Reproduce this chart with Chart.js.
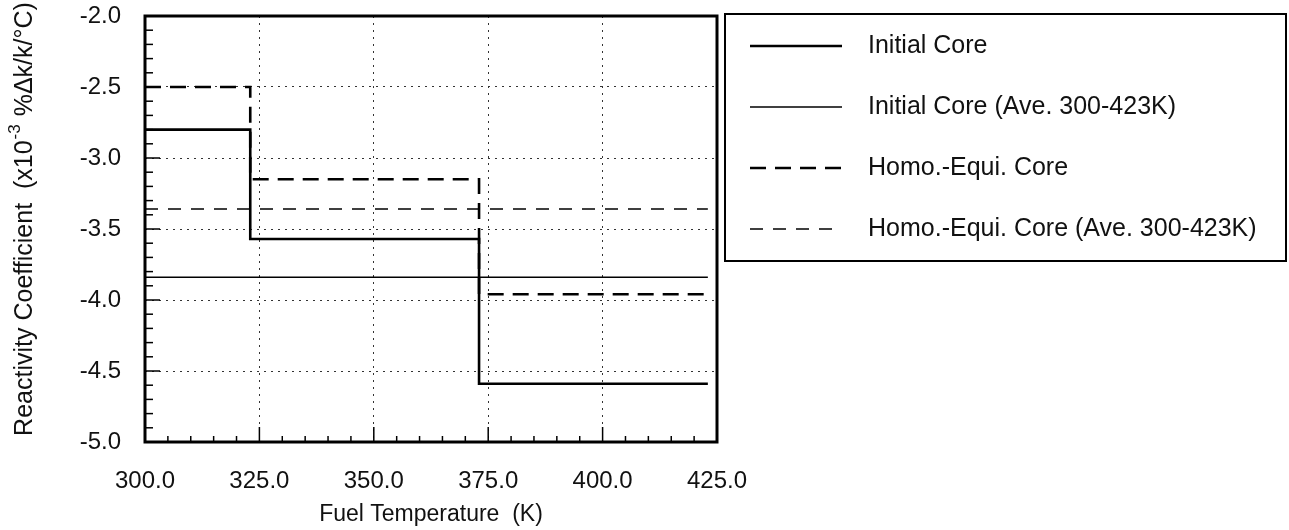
<!DOCTYPE html>
<html>
<head>
<meta charset="utf-8">
<script src="https://cdn.jsdelivr.net/npm/chart.js@4.4.1/dist/chart.umd.min.js"></script>
<style>
  html, body { margin: 0; padding: 0; background: #fff; }
  #wrap { width: 1289px; height: 530px; }
</style>
</head>
<body>
<div id="wrap"><canvas id="coefChart" width="1289" height="530"></canvas></div>
<script>
'use strict';

// fuel temperature break points (K) and coefficients (x10^-3 %dk/k/C)
var stepTemps = [300, 323, 373, 423];
var initialCore = [-2.80, -3.57, -4.59, -4.59];
var homoEquiCore = [-2.50, -3.15, -3.96, -3.96];

// averages over 300-423K
var aveTemps = [300, 423];
var initialAve = [-3.84, -3.84];
var homoEquiAve = [-3.36, -3.36];

var xTicks = [300, 325, 350, 375, 400, 425];
var yTicks = [-5.0, -4.5, -4.0, -3.5, -3.0, -2.5, -2.0];

var seriesNames = ['Initial Core', 'Initial Core (Ave. 300-423K)', 'Homo.-Equi. Core', 'Homo.-Equi. Core (Ave. 300-423K)'];

var FONT = "'Liberation Sans', Arial, Helvetica, sans-serif";
var INK = '#111';

function pts(xs, ys) {
  return xs.map(function (x, i) { return { x: x, y: ys[i] }; });
}

// frame round the plot plus the small inside ticks
var framePlugin = {
  id: 'frame',
  afterDatasetsDraw: function (chart) {
    var ctx = chart.ctx, a = chart.chartArea;
    var xs = chart.scales.x, ys = chart.scales.y;
    ctx.save();
    ctx.strokeStyle = '#000';
    ctx.lineWidth = 1.5;
    for (var t = 300; t <= 425; t += 5) {
      var px = xs.getPixelForValue(t);
      var len = (t % 25 === 0) ? 15 : 6;
      ctx.beginPath(); ctx.moveTo(px, a.bottom); ctx.lineTo(px, a.bottom - len); ctx.stroke();
    }
    for (var k = 0; k <= 30; k++) {
      var py = ys.getPixelForValue(-5 + k * 0.1);
      var l2 = (k % 5 === 0) ? 15 : 8;
      ctx.beginPath(); ctx.moveTo(a.left, py); ctx.lineTo(a.left + l2, py); ctx.stroke();
    }
    ctx.lineWidth = 3;
    ctx.strokeRect(a.left, a.top, a.right - a.left, a.bottom - a.top);
    ctx.restore();
  }
};

// boxed legend to the right of the plot
var legendBox = {
  id: 'legendBox',
  afterDraw: function (chart) {
    var ctx = chart.ctx;
    var rows = [46, 107, 168, 229];
    ctx.save();
    ctx.strokeStyle = '#000';
    ctx.lineWidth = 2;
    ctx.strokeRect(725, 14, 561, 247);
    ctx.font = '25px ' + FONT;
    ctx.fillStyle = INK;
    ctx.textBaseline = 'middle';
    chart.data.datasets.forEach(function (ds, i) {
      ctx.lineWidth = ds.borderWidth;
      ctx.setLineDash(ds.borderDash || []);
      ctx.beginPath(); ctx.moveTo(750, rows[i]); ctx.lineTo(842, rows[i]); ctx.stroke();
      ctx.setLineDash([]);
      ctx.fillText(ds.label, 868, rows[i]);
    });
    ctx.restore();
  }
};

// y title with the raised exponent
var yTitle = {
  id: 'yTitle',
  afterDraw: function (chart) {
    var ctx = chart.ctx;
    var main = '25px ' + FONT, small = '17px ' + FONT;
    var p1 = 'Reactivity Coefficient  (x10', p2 = '-3', p3 = ' %\u0394k/k/\u00b0C)';
    ctx.save();
    ctx.font = main;
    var w1 = ctx.measureText(p1).width, w3 = ctx.measureText(p3).width;
    ctx.font = small;
    var w2 = ctx.measureText(p2).width;
    var x0 = -(w1 + w2 + w3) / 2;
    ctx.translate(25, 220);
    ctx.rotate(-Math.PI / 2);
    ctx.fillStyle = INK;
    ctx.textBaseline = 'middle';
    ctx.font = main; ctx.fillText(p1, x0, 0);
    ctx.font = small; ctx.fillText(p2, x0 + w1 + 1, -10);
    ctx.font = main; ctx.fillText(p3, x0 + w1 + w2 + 2, 0);
    ctx.restore();
  }
};

var ctx = document.getElementById('coefChart').getContext('2d');
var coefChart = new Chart(ctx, {
  type: 'line',
  data: {
    datasets: [
      { label: seriesNames[0], data: pts(stepTemps, initialCore), stepped: 'before', borderColor: '#000', borderWidth: 2.6, pointRadius: 0, fill: false },
      { label: seriesNames[1], data: pts(aveTemps, initialAve), borderColor: '#000', borderWidth: 1.5, pointRadius: 0, fill: false },
      { label: seriesNames[2], data: pts(stepTemps, homoEquiCore), stepped: 'before', borderColor: '#000', borderWidth: 2.6, borderDash: [16, 9], pointRadius: 0, fill: false },
      { label: seriesNames[3], data: pts(aveTemps, homoEquiAve), borderColor: '#000', borderWidth: 1.5, borderDash: [13, 10], pointRadius: 0, fill: false }
    ]
  },
  options: {
    responsive: false,
    animation: false,
    devicePixelRatio: 1,
    layout: { padding: { left: 0, top: 16, right: 572, bottom: 0 } },
    plugins: { legend: { display: false }, tooltip: { enabled: false } },
    scales: {
      x: {
        type: 'linear', min: 300, max: 425,
        afterBuildTicks: function (s) { s.ticks = xTicks.map(function (v) { return { value: v }; }); },
        afterFit: function (s) { s.height = 88; s.paddingLeft = 0; s.paddingRight = 0; },
        grid: { color: '#333', lineWidth: 1, drawTicks: false },
        border: { display: false, dash: [2, 5] },
        ticks: { padding: 25, color: INK, font: { size: 24, family: FONT }, maxRotation: 0,
          callback: function (v) { return Number(v).toFixed(1); } },
        title: { display: true, text: 'Fuel Temperature  (K)', color: INK, font: { size: 23, family: FONT }, padding: { top: 0, bottom: 2 } }
      },
      y: {
        type: 'linear', min: -5, max: -2,
        afterBuildTicks: function (s) { s.ticks = yTicks.map(function (v) { return { value: v }; }); },
        afterFit: function (s) { s.width = 145; s.paddingTop = 0; s.paddingBottom = 0; },
        grid: { color: '#333', lineWidth: 1, drawTicks: false },
        border: { display: false, dash: [2, 5] },
        ticks: { padding: 24, color: INK, font: { size: 24, family: FONT },
          callback: function (v) { return Number(v).toFixed(1); } }
      }
    }
  },
  plugins: [framePlugin, legendBox, yTitle]
});
</script>
</body>
</html>
